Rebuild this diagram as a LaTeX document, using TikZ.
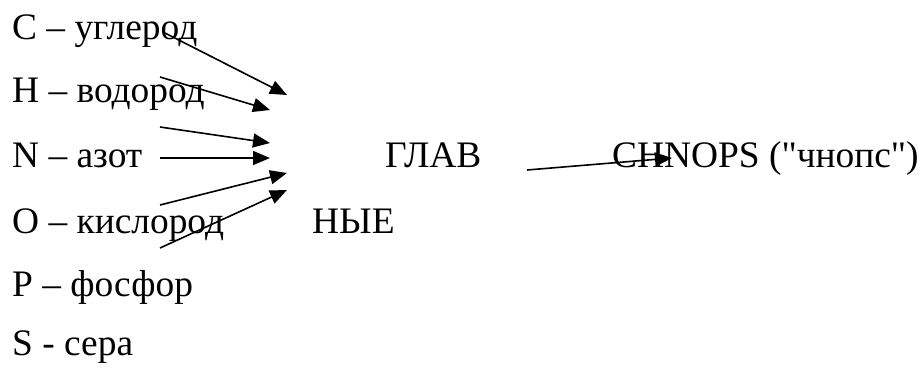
\documentclass[tikz,border=0pt]{standalone}
\usepackage{fontspec}
\newfontfamily\tnrfont{Liberation Serif}
\usetikzlibrary{arrows.meta}
\begin{document}
\begin{tikzpicture}[x=1pt,y=-1pt,
  txt/.style={anchor=base west,inner sep=0pt,font=\tnrfont\fontsize{37.4}{42}\selectfont},
  arr/.style={line width=1.6pt,-{Triangle[length=17pt,width=14pt]}}]
\useasboundingbox (0,0) rectangle (920,367);
\node[txt] (c) at (12,39) {C – углерод};
\node[txt] (h) at (12,102) {H – водород};
\node[txt] (n) at (12,167) {N – азот};
\node[txt] (o) at (12,233) {O – кислород};
\node[txt] (p) at (12,296) {P – фосфор};
\node[txt] (s) at (12,355) {S - сера};
\node[txt] (glav) at (385,167) {ГЛАВ};
\node[txt] (nye) at (312,233) {НЫЕ};
\node[txt] (chnops) at (612,167) {CHNOPS ("чнопс")};
\coordinate (a1s) at (165,33); \coordinate (a1e) at (287,95);
\coordinate (a2s) at (160,77); \coordinate (a2e) at (270,110);
\coordinate (a3s) at (160,127); \coordinate (a3e) at (270,143);
\coordinate (a4s) at (160,158); \coordinate (a4e) at (270,158);
\coordinate (a5s) at (160,205); \coordinate (a5e) at (287,173);
\coordinate (a6s) at (160,248); \coordinate (a6e) at (287,190);
\coordinate (a7s) at (527,170); \coordinate (a7e) at (672,158);
\draw[arr] (a1s) -- (a1e);
\draw[arr] (a2s) -- (a2e);
\draw[arr] (a3s) -- (a3e);
\draw[arr] (a4s) -- (a4e);
\draw[arr] (a5s) -- (a5e);
\draw[arr] (a6s) -- (a6e);
\draw[arr] (a7s) -- (a7e);
\end{tikzpicture}
\end{document}
